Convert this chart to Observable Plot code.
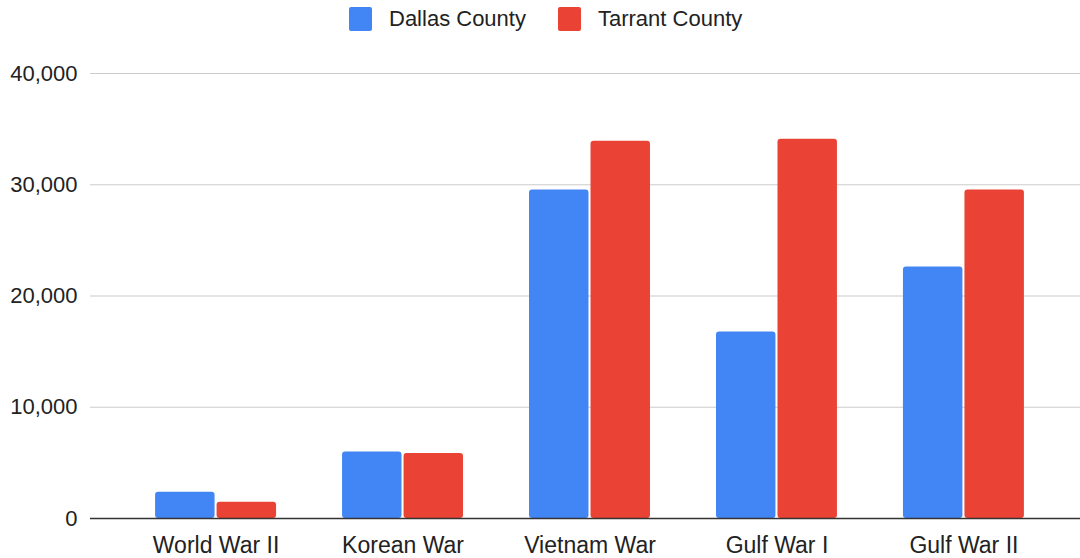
<!DOCTYPE html>
<html>
<head>
<meta charset="utf-8">
<script src="https://cdn.jsdelivr.net/npm/d3@7"></script>
<script src="https://cdn.jsdelivr.net/npm/@observablehq/plot@0.6"></script>
<style>
  html, body { margin: 0; padding: 0; background: #fff; }
  body { width: 1080px; height: 558px; overflow: hidden; font-family: "Liberation Sans", Arial, sans-serif; color: #222; }
  #legend { height: 38px; display: flex; align-items: center; justify-content: flex-start; padding-left: 349px; box-sizing: border-box; font-size: 22px; }
  .item { display: flex; align-items: center; margin-right: 32px; }
  .sw { width: 23px; height: 24px; border-radius: 2px; margin-right: 17px; }
  #chart svg { display: block; }
  #chart g[aria-label^="x-axis"] { font-size: 23px; }
</style>
</head>
<body>
<div id="legend"></div>
<div id="chart"></div>
<script>
const wars = ["World War II", "Korean War", "Vietnam War", "Gulf War I", "Gulf War II"];
const dallas = [2360, 5980, 29520, 16770, 22610];
const tarrant = [1470, 5840, 33900, 34080, 29520];
const seriesNames = ["Dallas County", "Tarrant County"];
const seriesColors = ["#4285F4", "#EA4335"];
const yTicks = [0, 10000, 20000, 30000, 40000];

const legend = document.getElementById("legend");
seriesNames.forEach((name, i) => {
  const it = document.createElement("div");
  it.className = "item";
  const sw = document.createElement("div");
  sw.className = "sw";
  sw.style.background = seriesColors[i];
  const tx = document.createElement("span");
  tx.textContent = name;
  it.appendChild(sw);
  it.appendChild(tx);
  legend.appendChild(it);
});

const rows = wars.map((w, i) => ({war: w, dallas: dallas[i], tarrant: tarrant[i]}));

const chart = Plot.plot({
  width: 1080,
  height: 520,
  marginTop: 35,
  marginBottom: 40,
  marginLeft: 90,
  marginRight: 0,
  style: {fontFamily: "'Liberation Sans', Arial, sans-serif", fontSize: "22px", color: "#222", background: "#fff"},
  x: {type: "band", domain: wars, paddingInner: 0.353, paddingOuter: 0.3, insetLeft: 9, round: false, tickSize: 0, tickPadding: 18, label: null},
  y: {domain: [0, 40000], ticks: yTicks, tickFormat: d3.format(","), tickSize: 0, tickPadding: 13, label: null},
  marks: [
    Plot.ruleY(yTicks.filter(d => d > 0), {stroke: "#ccc", strokeWidth: 1.2}),
    Plot.barY(rows, {x: "war", y: "dallas", fill: seriesColors[0], insetRight: 61.5, rx: 3}),
    Plot.barY(rows, {x: "war", y: "tarrant", fill: seriesColors[1], insetLeft: 61.5, rx: 3}),
    Plot.ruleY([0], {stroke: "#333", strokeWidth: 1.5})
  ]
});
document.getElementById("chart").appendChild(chart);
</script>
</body>
</html>
